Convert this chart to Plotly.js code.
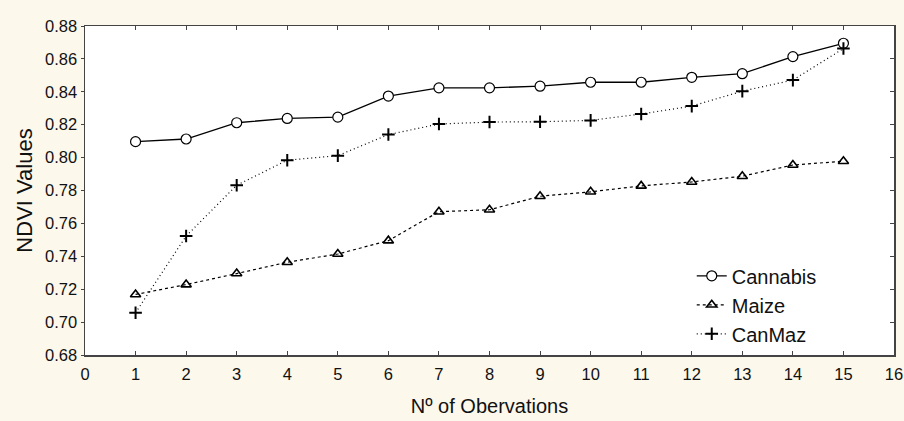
<!DOCTYPE html>
<html>
<head>
<meta charset="utf-8">
<script src="https://cdn.plot.ly/plotly-3.0.1.min.js"></script>
<style>html,body{margin:0;padding:0;background:#fdf8ec;}#chart{width:904px;height:421px;}</style>
</head>
<body>
<div id="chart"></div>
<script>
const observations = [1,2,3,4,5,6,7,8,9,10,11,12,13,14,15];
const cannabis = [0.8097,0.8113,0.8212,0.8238,0.8246,0.8374,0.8424,0.8424,0.8434,0.8458,0.8458,0.8488,0.8510,0.8614,0.8695];
const maize    = [0.7168,0.7228,0.7295,0.7364,0.7414,0.7495,0.7671,0.7683,0.7765,0.7792,0.7828,0.7852,0.7887,0.7955,0.7978];
const canmaz   = [0.7057,0.7523,0.7832,0.7984,0.8012,0.8140,0.8204,0.8216,0.8218,0.8226,0.8265,0.8313,0.8404,0.8471,0.8663];
const xTicks = [0,1,2,3,4,5,6,7,8,9,10,11,12,13,14,15,16];
const yTicks = [0.68,0.70,0.72,0.74,0.76,0.78,0.80,0.82,0.84,0.86,0.88];

const traces = [
  {x: observations, y: cannabis, name: 'Cannabis', type: 'scatter', mode: 'lines+markers',
   line: {color: '#000', width: 1.3},
   marker: {symbol: 'circle', size: 10, color: '#fff', line: {color: '#000', width: 1.2}}},
  {x: observations, y: maize, name: 'Maize', type: 'scatter', mode: 'lines+markers',
   line: {color: '#000', width: 1.2, dash: '3px,3px'},
   marker: {symbol: 'triangle-up-open', size: 9, color: '#000', line: {color: '#000', width: 1.6}}},
  {x: observations, y: canmaz, name: 'CanMaz', type: 'scatter', mode: 'lines+markers',
   line: {color: '#000', width: 1.2, dash: '1px,3px'},
   marker: {symbol: 'cross-thin', size: 9, color: '#000', line: {color: '#000', width: 2}}},
  {x: [], y: [], xaxis: 'x2', yaxis: 'y2', showlegend: false, hoverinfo: 'skip', type: 'scatter'}
];

const fam = '"Liberation Sans", Arial, Helvetica, sans-serif';

const layout = {
  width: 904, height: 421,
  paper_bgcolor: '#fdf8ec', plot_bgcolor: '#ffffff',
  margin: {l: 85, r: 10, t: 26, b: 66},
  font: {family: fam, color: '#111'},
  showlegend: true,
  xaxis: {
    range: [0, 16], tickvals: xTicks, ticktext: xTicks.map(String),
    showgrid: false, zeroline: false, showline: true, linecolor: '#444', linewidth: 1.5,
    ticks: 'inside', ticklen: 4, tickcolor: '#444', tickwidth: 1,
    tickfont: {size: 16.5, family: fam, color: '#111'},
    ticklabelstandoff: 4,
    title: {text: 'N\u00BA of Obervations', font: {size: 20, family: fam, color: '#111'}, standoff: 16}
  },
  yaxis: {
    range: [0.68, 0.88], tickvals: yTicks, ticktext: yTicks.map(v => v.toFixed(2)),
    showgrid: false, zeroline: false, showline: true, linecolor: '#444', linewidth: 1.5,
    ticks: 'outside', ticklen: 3, tickcolor: '#444', tickwidth: 1,
    tickfont: {size: 16.5, family: fam, color: '#111'},
    title: {text: 'NDVI Values', font: {size: 22, family: fam, color: '#111'}, standoff: 6}
  },
  xaxis2: {
    overlaying: 'x', side: 'top', range: [0, 16], tickvals: xTicks, showticklabels: false,
    showgrid: false, zeroline: false, showline: true, linecolor: '#444', linewidth: 1.5,
    ticks: 'inside', ticklen: 4, tickcolor: '#444', anchor: 'y2'
  },
  yaxis2: {
    overlaying: 'y', side: 'right', range: [0.68, 0.88], tickvals: yTicks, showticklabels: false,
    showgrid: false, zeroline: false, showline: true, linecolor: '#444', linewidth: 1.5,
    ticks: 'inside', ticklen: 4, tickcolor: '#444', anchor: 'x2'
  },
  legend: {
    x: 0.75, xanchor: 'left', y: 0.30, yanchor: 'top',
    bgcolor: 'rgba(0,0,0,0)', borderwidth: 0,
    font: {size: 20, family: fam, color: '#111'},
    tracegroupgap: 0, itemwidth: 30
  }
};

Plotly.newPlot('chart', traces, layout, {staticPlot: true, displayModeBar: false});
</script>
</body>
</html>
